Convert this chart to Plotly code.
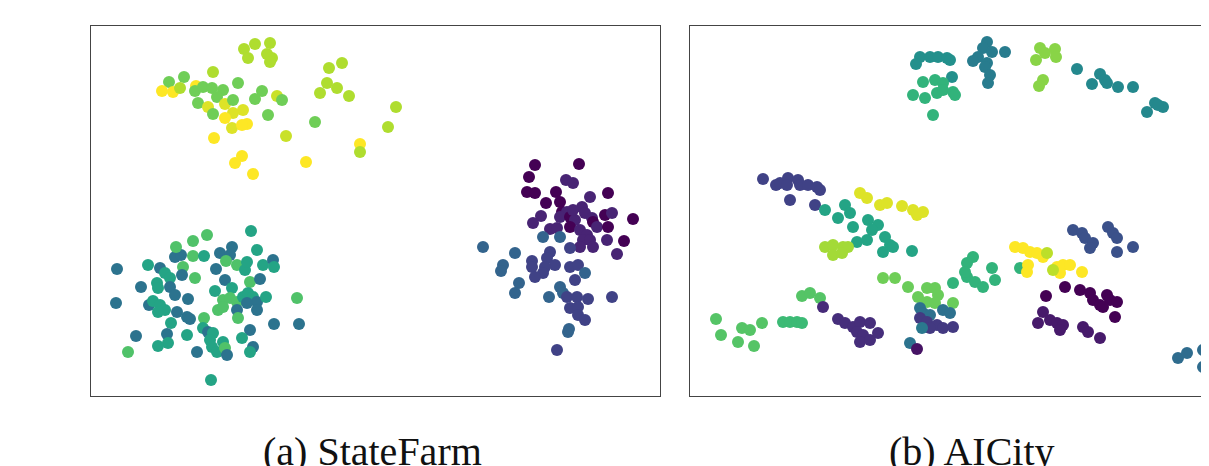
import plotly.graph_objects as go

# ---------------- (a) StateFarm embedding ----------------
sf_x = [270,255,244,248,267,272,270,213,184,169,162,173,180,196,195,203,212,223,217,238,
        198,208,213,225,233,243,233,225,232,247,242,214,262,255,277,282,268,286,242,235,
        253,306,315,329,342,327,337,320,349,396,388,360,360,
        117,116,136,128,141,148,160,165,170,157,158,170,175,149,153,160,165,158,177,171,
        167,168,158,175,181,176,183,182,193,193,204,207,195,188,187,190,187,197,204,203,
        208,213,210,212,217,223,225,227,211,216,220,232,230,226,225,215,232,223,230,237,
        243,218,223,237,238,237,245,247,251,257,250,260,248,253,257,247,257,266,263,273,
        274,250,242,253,250,274,299,297,
        535,529,527,535,579,566,573,556,546,560,562,567,560,541,533,570,575,570,582,590,
        573,585,592,593,597,608,605,612,608,633,607,624,617,550,557,560,543,580,587,583,
        590,593,580,570,483,515,503,501,532,532,550,547,555,545,543,535,570,578,585,575,
        519,515,560,563,567,549,577,588,612,570,578,578,585,568,569,557]
sf_y = [43,44,49,58,54,58,62,72,77,82,91,92,88,86,91,87,88,90,97,83,
        103,107,114,104,100,110,113,118,128,124,125,138,91,99,96,100,115,136,156,163,
        174,162,122,68,63,83,88,93,96,107,127,144,152,
        269,303,336,352,287,265,268,273,278,283,288,287,295,305,301,305,310,312,312,323,
        334,343,346,257,255,247,267,275,241,256,256,235,278,299,317,319,335,352,318,328,
        332,333,340,347,352,342,348,355,380,269,253,247,255,261,280,291,288,300,298,302,
        297,310,307,310,318,265,270,262,231,250,282,279,293,297,302,303,310,297,265,260,
        267,330,338,347,352,324,324,298,
        165,177,192,193,164,180,183,192,203,202,212,212,217,216,223,217,220,227,207,197,
        210,213,218,222,227,193,215,213,227,219,240,241,254,229,228,237,237,230,235,240,
        240,247,247,248,247,253,265,271,261,267,252,258,265,267,273,277,267,265,273,280,
        283,293,287,293,297,297,297,299,297,308,307,315,320,332,329,350]
sf_c = [0.88,0.88,0.88,0.88,0.88,0.88,0.88,0.88,0.78,0.78,1.0,1.0,0.88,1.0,0.78,0.78,0.78,0.78,0.78,0.78,
        0.78,0.95,0.78,0.95,0.78,0.95,0.95,1.0,0.95,1.0,1.0,1.0,0.78,0.78,0.92,0.78,0.78,0.92,1.0,1.0,
        1.0,1.0,0.78,0.88,0.88,0.88,0.88,0.88,0.88,0.88,0.88,1.0,0.88,
        0.38,0.38,0.38,0.72,0.38,0.58,0.38,0.58,0.58,0.58,0.58,0.38,0.38,0.38,0.58,0.58,0.58,0.58,0.38,0.58,
        0.38,0.58,0.58,0.38,0.38,0.72,0.72,0.38,0.72,0.72,0.58,0.72,0.72,0.38,0.38,0.38,0.58,0.38,0.72,0.58,
        0.38,0.58,0.58,0.58,0.58,0.58,0.72,0.38,0.58,0.38,0.38,0.38,0.38,0.72,0.38,0.58,0.58,0.72,0.72,0.72,
        0.58,0.72,0.72,0.38,0.72,0.72,0.58,0.58,0.58,0.58,0.72,0.38,0.58,0.58,0.38,0.38,0.38,0.58,0.58,0.38,
        0.58,0.38,0.58,0.38,0.58,0.38,0.38,0.72,
        0.0,0.0,0.0,0.0,0.0,0.1,0.1,0.0,0.0,0.0,0.0,0.1,0.1,0.1,0.1,0.0,0.1,0.0,0.1,0.1,
        0.1,0.1,0.1,0.0,0.1,0.0,0.0,0.1,0.0,0.0,0.1,0.0,0.1,0.1,0.1,0.32,0.32,0.1,0.1,0.1,
        0.1,0.1,0.1,0.2,0.32,0.32,0.32,0.32,0.2,0.2,0.2,0.2,0.2,0.2,0.2,0.2,0.2,0.2,0.32,0.2,
        0.32,0.32,0.32,0.32,0.2,0.32,0.2,0.2,0.2,0.2,0.2,0.2,0.2,0.32,0.32,0.2]

# ---------------- (b) AICity embedding ----------------
ai_x = [920,930,938,947,916,950,952,
        923,935,943,913,925,937,943,933,953,955,
        987,983,978,973,992,1005,987,985,990,988,
        1040,1045,1055,1056,1036,1043,1039,
        1077,1092,1100,1105,1107,1118,1133,1147,1155,1163,1158,
        763,776,780,788,787,798,800,808,817,820,790,815,
        825,845,850,838,853,868,878,872,857,867,885,890,883,893,912,
        860,867,880,887,902,913,923,917,
        825,833,843,848,833,842,
        883,895,
        716,721,738,754,742,750,762,802,810,820,
        783,790,797,802,
        823,
        838,845,853,860,870,857,863,860,870,878,
        908,918,927,935,938,927,935,953,
        920,923,930,943,950,
        920,927,937,943,953,930,
        922,910,917,953,967,
        1073,1082,1085,1093,1090,1108,1113,1117,1117,1133,
        973,967,965,975,983,992,995,1020,
        1015,1023,1030,1037,1043,1028,1027,1057,1063,1070,1082,1060,
        1047,1053,
        1065,1080,1090,1093,1100,1107,1110,1117,1103,1115,1046,
        1043,1038,1050,1057,1063,1060,1083,1088,1100,
        1208,1178,1187,1203,1203,1207,1208]
ai_y = [57,57,57,58,64,60,77,
        82,80,83,95,98,93,90,115,92,95,
        42,48,57,61,52,52,63,67,75,83,
        48,53,49,57,60,80,86,
        69,84,74,80,83,87,87,112,103,107,105,
        179,185,183,178,185,180,185,185,187,190,200,205,
        210,205,213,218,227,220,225,230,242,240,237,245,252,247,251,
        193,198,205,203,206,210,212,215,
        247,245,247,247,255,253,
        278,278,
        319,335,342,346,328,330,323,296,293,298,
        322,322,322,323,
        307,
        319,323,327,322,323,332,335,342,340,333,
        287,297,288,288,295,302,303,303,
        308,313,315,310,313,
        318,322,325,328,327,328,
        328,343,349,283,277,
        230,233,238,243,248,227,233,238,252,247,
        257,263,272,282,287,268,280,268,
        247,248,252,253,257,265,272,267,265,265,272,273,
        253,270,
        287,290,293,300,305,295,300,302,307,317,296,
        312,323,320,323,325,330,327,332,338,
        290,358,353,350,367,373,380]
ai_c = [0.5]*7 + [0.65]*10 + [0.42]*10 + [0.82]*7 + [0.47]*11 + [0.2]*12 + [0.58]*15 \
     + [0.95]*8 + [0.86]*6 + [0.78]*2 + [0.73]*10 + [0.68]*4 + [0.12] + [0.13]*10 \
     + [0.77]*8 + [0.37]*5 + [0.17]*6 + [0.4,0.38,0.05,0.65,0.65] + [0.25]*10 + [0.65]*8 \
     + [1.0]*12 + [0.9]*2 + [0.0]*11 + [0.07]*9 + [0.35]*7

captions = ["(a) StateFarm", "(b) AICity"]

# page body has an 8px margin; the figure fills the rest of the 1209x466 window
OFF = 8
W, H = 1209 - OFF, 466 - OFF
fig = go.Figure()
fig.add_trace(go.Scatter(x=sf_x, y=sf_y, mode="markers", xaxis="x", yaxis="y",
                         marker=dict(size=12, color=sf_c, colorscale="Viridis", cmin=0, cmax=1,
                                     line=dict(width=0)), showlegend=False, hoverinfo="skip"))
fig.add_trace(go.Scatter(x=ai_x, y=ai_y, mode="markers", xaxis="x2", yaxis="y2",
                         marker=dict(size=12, color=ai_c, colorscale="Viridis", cmin=0, cmax=1,
                                     line=dict(width=0)), showlegend=False, hoverinfo="skip"))

frame = dict(showgrid=False, zeroline=False, showticklabels=False, ticks="",
             showline=True, linecolor="#444", linewidth=1.3)
ytop, ybot = 1 - (26 - OFF) / H, 1 - (396 - OFF) / H
serif = "Liberation Serif, Times New Roman, Times, serif"
fig.update_layout(
    width=W, height=H, margin=dict(l=0, r=0, t=0, b=0),
    paper_bgcolor="white", plot_bgcolor="white",
    xaxis=dict(domain=[(91 - OFF) / W, (660 - OFF) / W], range=[91, 660], mirror=True, **frame),
    yaxis=dict(domain=[ybot, ytop], range=[396, 26], mirror=True, **frame),
    xaxis2=dict(domain=[(690 - OFF) / W, 1.0], range=[690, 1209], mirror=True, anchor="y2", **frame),
    yaxis2=dict(domain=[ybot, ytop], range=[396, 26], mirror=False, anchor="x2", **frame),
    annotations=[
        dict(text=captions[0], x=(372 - OFF) / W, y=1 - (451 - OFF) / H, xref="paper", yref="paper",
             xanchor="center", yanchor="middle", showarrow=False,
             font=dict(family=serif, size=40, color="#111")),
        dict(text=captions[1], x=(971.5 - OFF) / W, y=1 - (451 - OFF) / H, xref="paper", yref="paper",
             xanchor="center", yanchor="middle", showarrow=False,
             font=dict(family=serif, size=40, color="#111")),
    ],
)
fig.write_html("out.html")
